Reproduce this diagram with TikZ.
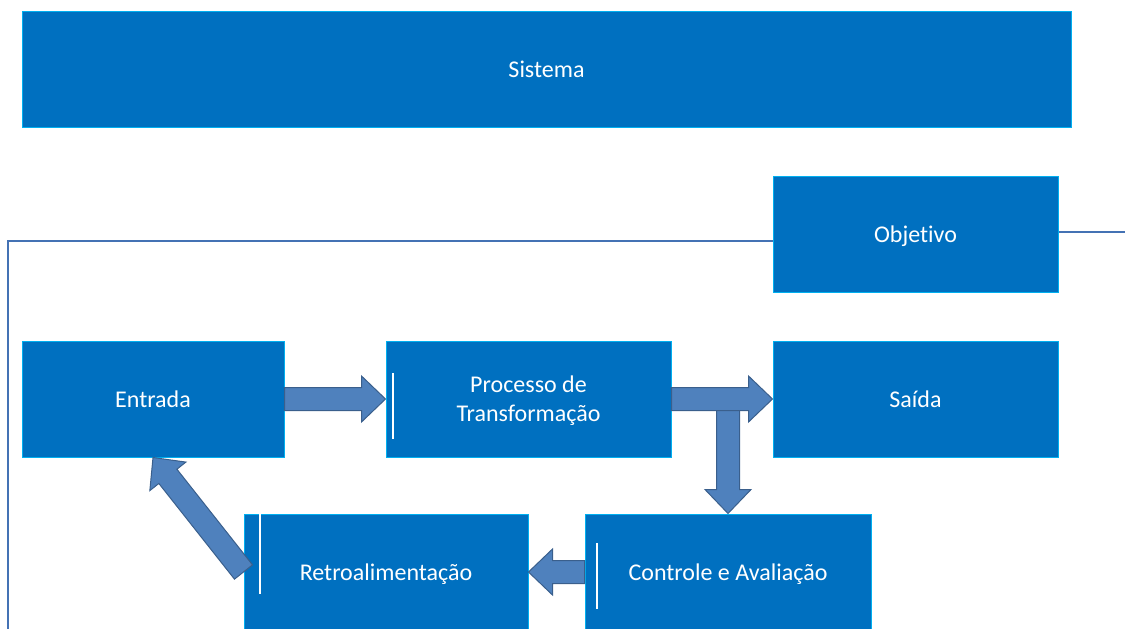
\documentclass[tikz,border=0pt]{standalone}
\usepackage{fontspec}
\setmainfont{Carlito}[Ligatures=NoCommon]
\usetikzlibrary{calc}
\definecolor{azulcaixa}{RGB}{0,112,192}
\definecolor{bordacaixa}{RGB}{0,176,240}
\definecolor{azulseta}{RGB}{79,129,189}
\definecolor{bordaseta}{RGB}{58,95,140}
\definecolor{azullinha}{RGB}{68,114,180}
% block arrow from #1 (tail) to #2 (tip)
\newcommand{\seta}[2]{%
  \filldraw[bloco] ($(#1)!5.75pt!90:(#2)$) -- ($(#2)!12pt!(#1)!5.75pt!270:(#1)$)
    -- ($(#2)!12pt!(#1)!11.5pt!270:(#1)$) -- (#2)
    -- ($(#2)!12pt!(#1)!11.5pt!90:(#1)$) -- ($(#2)!12pt!(#1)!5.75pt!90:(#1)$)
    -- ($(#1)!5.75pt!270:(#2)$) -- cycle;}
\begin{document}
\begin{tikzpicture}
	    [caixa/.style={rectangle, fill=azulcaixa, draw=bordacaixa, line width=0.5pt, minimum height=58pt, inner sep=0pt, text=white, align=center, text depth=0pt, font=\fontsize{12}{14.5}\selectfont},
	     bloco/.style={fill=azulseta, draw=bordaseta, line width=0.5pt, line join=miter},
	     linha/.style={draw=azullinha, line width=1pt},
	     barra/.style={draw=white, line width=1pt},
	     x=0.5pt, y=-0.5pt]
	    \useasboundingbox (0,0) rectangle (1125,628);
	    % \draw[step=50,gray,very thin] (0,0) grid (1125,628);
	    \coordinate (canto) at (8,640);
	    \coordinate (fim) at (1125,232);
	    \node[caixa, minimum width=524.5pt] (sistema)   at (546.5,69) {Sistema};
	    \node[caixa, minimum width=142.5pt] (objetivo)  at (915.5,234) {Objetivo};
	    \node[caixa, minimum width=131pt]   (entrada)   at (153,399)   {Entrada};
	    \node[caixa, minimum width=142.5pt] (processo)  at (528.5,399) {Processo de\\Transformação};
	    \node[caixa, minimum width=142.5pt] (saida)     at (915.5,399) {Saída};
	    \node[caixa, minimum width=142pt]   (retro)     at (386,572)   {Retroalimentação};
	    \node[caixa, minimum width=143pt]   (controle)  at (728,572)   {Controle e Avaliação};
	    \draw[linha] ([yshift=-3.5pt]objetivo.west) -| (canto);
	    \draw[linha] ([yshift=1pt]objetivo.east) -- (fim);
	    \draw[barra] (393,373) -- (393,439);
	    \draw[barra] (260,514) -- (260,594);
	    \draw[barra] (597,543) -- (597,609);
	    \coordinate (desvio) at (controle.north |- processo.east);
	    \seta{entrada.east}{processo.west}
	    \seta{desvio}{controle.north}
	    \seta{processo.east}{saida.west}
	    \seta{controle.west}{retro.east}
	    \seta{retro.west}{entrada.south}
\end{tikzpicture}
\end{document}
